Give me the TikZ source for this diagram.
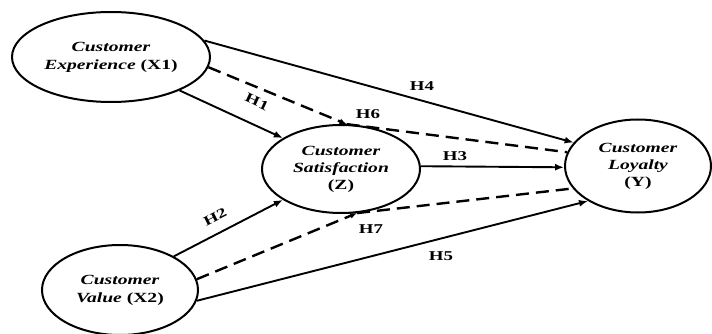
\documentclass[tikz,border=0pt]{standalone}
\usepackage{fontspec}
\setmainfont[FakeStretch=1.4]{Liberation Serif}
\usetikzlibrary{shapes.geometric,arrows.meta}
\begin{document}
\begin{tikzpicture}[x=1pt,y=-1pt,
  var/.style={draw,ellipse,line width=2pt,inner sep=0pt,align=center,font=\fontsize{14}{17}\selectfont\bfseries},
  direct/.style={line width=1.9pt,-{Latex[length=9pt,width=7pt]}},
  med/.style={line width=2.4pt,dash pattern=on 13pt off 7pt},
  medarr/.style={med,-{Latex[length=7pt,width=6pt]}},
  hlab/.style={font=\fontsize{13.5}{15}\selectfont\bfseries,inner sep=0pt}]
\useasboundingbox (0,0) rectangle (712,334);
\node[var,minimum width=198pt,minimum height=90pt] (x1) at (111,57)
  {\textit{Customer}\\[1pt]\textit{Experience} (X1)};
\node[var,minimum width=158pt,minimum height=88pt] (z) at (341,169)
  {\textit{Customer}\\\textit{Satisfaction}\\(Z)};
\node[var,minimum width=146pt,minimum height=93pt] (y) at (638,166)
  {\textit{Customer}\\\textit{Loyalty}\\(Y)};
\node[var,minimum width=156pt,minimum height=90pt] (x2) at (120,290)
  {\textit{Customer}\\[1pt]\textit{Value} (X2)};
% direct paths
\draw[direct] (x1.10.4) -- (y.160.6);
\draw[direct] (x1.-26.2) -- (z.152.3);
\draw[direct] (z.2) -- (y.181);
\draw[direct] (x2.32.7) -- (z.208.1);
\draw[direct] (x2.-8.7) -- (y.215.2);
% mediated paths
\draw[medarr] (x1.-6.5) -- (z.83);
\draw[med] (z.83) -- (y.169.6);
\draw[medarr] (x2.8.9) -- (z.-70);
\draw[med] (z.-70) -- (y.199.3);
% labels
\node[hlab] (h4) at (422,86) {H4};
\node[hlab,rotate=-25] (h1) at (257,102) {H1};
\node[hlab] (h6) at (368,114) {H6};
\node[hlab] (h3) at (455,156) {H3};
\node[hlab,rotate=27] (h2) at (215,217) {H2};
\node[hlab] (h7) at (371,229) {H7};
\node[hlab] (h5) at (441,256) {H5};
\end{tikzpicture}
\end{document}
